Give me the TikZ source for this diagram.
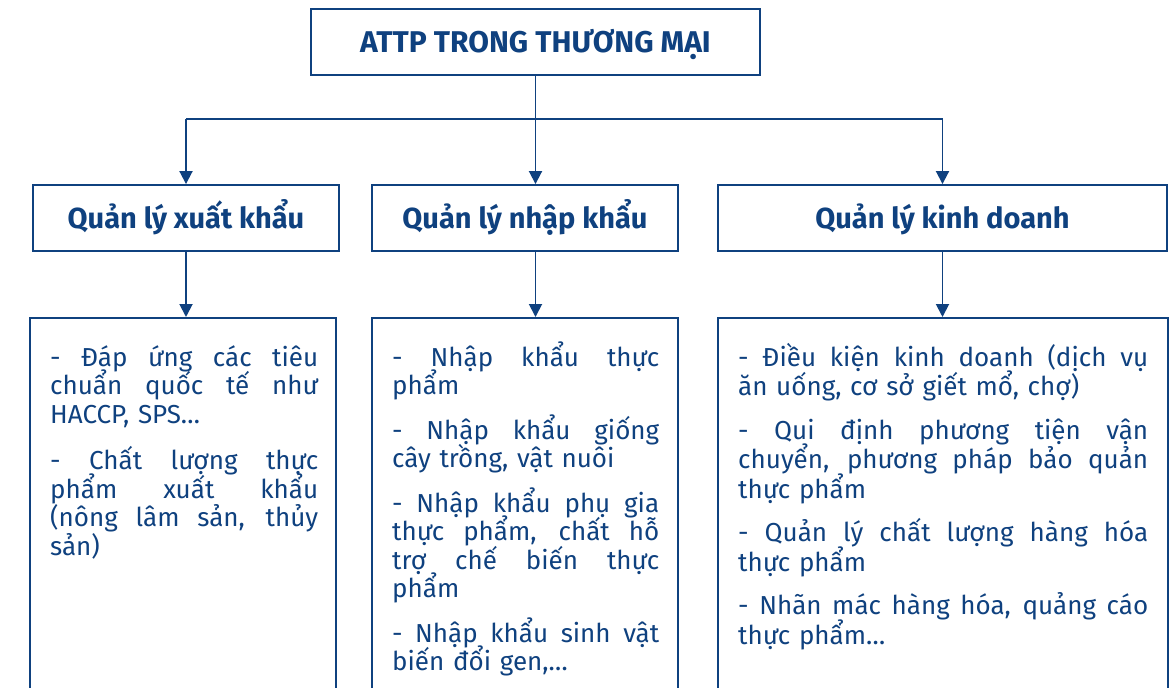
\documentclass[tikz,border=0pt]{standalone}
\usepackage{fontspec}
\setmainfont{Fira Sans}
\usetikzlibrary{arrows.meta}
\definecolor{navy}{HTML}{0F417F}
\setlength\parindent{0pt}
% a justified line: word gaps stretch to fill the column width
\newcommand\fullline[1]{\leavevmode\hbox to \hsize{\spaceskip=0.25em plus 1fil\relax #1}}
% keep a fixed line pitch even where stacked accents stand tall
\newcommand\fixedpitch{\lineskiplimit=-100pt\lineskip=0pt\relax}

\begin{document}
\begin{tikzpicture}[x=1pt,y=-1pt,
  box/.style={draw=navy,line width=1.9pt,rectangle,inner sep=0pt},
  head/.style={box,font=\fontsize{29}{32}\selectfont\bfseries,text=navy,
    text height=27pt,text depth=7pt,minimum height=66pt},
  body/.style={inner sep=0pt,anchor=north west,align=left,text=navy,
    font=\fontsize{26}{28.5}\selectfont\fixedpitch},
  link/.style={draw=navy,line width=1.9pt},
  arr/.style={link,-{Triangle[width=13pt,length=13pt]}}]
\useasboundingbox[fill=white] (0,0) rectangle (1176,688);
\clip (0,0) rectangle (1176,688);

% title and the three branches
\node[head,minimum width=449pt,font=\fontsize{30}{33}\selectfont\bfseries] (top) at (535.5,42) {ATTP TRONG THƯƠNG MẠI};
\node[head,minimum width=306pt] (exp) at (186,218) {Quản lý xuất khẩu};
\node[head,minimum width=306pt] (imp) at (525,218) {Quản lý nhập khẩu};
\node[head,minimum width=449pt] (biz) at (942.5,218) {Quản lý kinh doanh};

% detail boxes (run past the lower edge)
\node[box,anchor=north,minimum width=306pt,minimum height=420pt] (expd) at (183,317) {};
\node[box,anchor=north,minimum width=306pt,minimum height=420pt] (impd) at (525,317) {};
\node[box,anchor=north,minimum width=450pt,minimum height=420pt] (bizd) at (943,317) {};

% detail texts
\node[body,text width=268pt] (expt) at (50,340) {%
\rule{0pt}{26pt}\fullline{- Đáp ứng các tiêu}\\
\fullline{chuẩn quốc tế như}\\
HACCP, SPS…\\[18pt]
\fullline{- Chất lượng thực}\\
\fullline{phẩm xuất khẩu}\\
\fullline{(nông lâm sản, thủy}\\
sản)};

\node[body,text width=267pt] (impt) at (392,340) {%
\rule{0pt}{26pt}\fullline{- Nhập khẩu thực}\\
phẩm\\[16pt]
\fullline{- Nhập khẩu giống}\\
cây trồng, vật nuôi\\[16pt]
\fullline{- Nhập khẩu phụ gia}\\
\fullline{thực phẩm, chất hỗ}\\
\fullline{trợ chế biến thực}\\
phẩm\\[16pt]
\fullline{- Nhập khẩu sinh vật}\\
biến đổi gen,…};

\node[body,text width=410pt,font=\fontsize{26}{29.5}\selectfont\fixedpitch] (bizt) at (738,340) {%
\rule{0pt}{26pt}\fullline{- Điều kiện kinh doanh (dịch vụ}\\
ăn uống, cơ sở giết mổ, chợ)\\[14pt]
\fullline{- Qui định phương tiện vận}\\
\fullline{chuyển, phương pháp bảo quản}\\
thực phẩm\\[14pt]
\fullline{- Quản lý chất lượng hàng hóa}\\
thực phẩm\\[14pt]
\fullline{- Nhãn mác hàng hóa, quảng cáo}\\
thực phẩm…};

% connectors
\coordinate (split) at (top.south |- 0,119);
\draw[arr] (top.south) -- (top.south |- imp.north);
\draw[link] (exp.north |- split) -- (biz.north |- split);
\draw[arr] (exp.north |- split) -- (exp.north);
\draw[arr] (biz.north |- split) -- (biz.north);
\draw[arr] (exp.south) -- (exp.south |- expd.north);
\draw[arr] (top.south |- imp.south) -- (top.south |- impd.north);
\draw[arr] (biz.south) -- (biz.south |- bizd.north);
\end{tikzpicture}
\end{document}
